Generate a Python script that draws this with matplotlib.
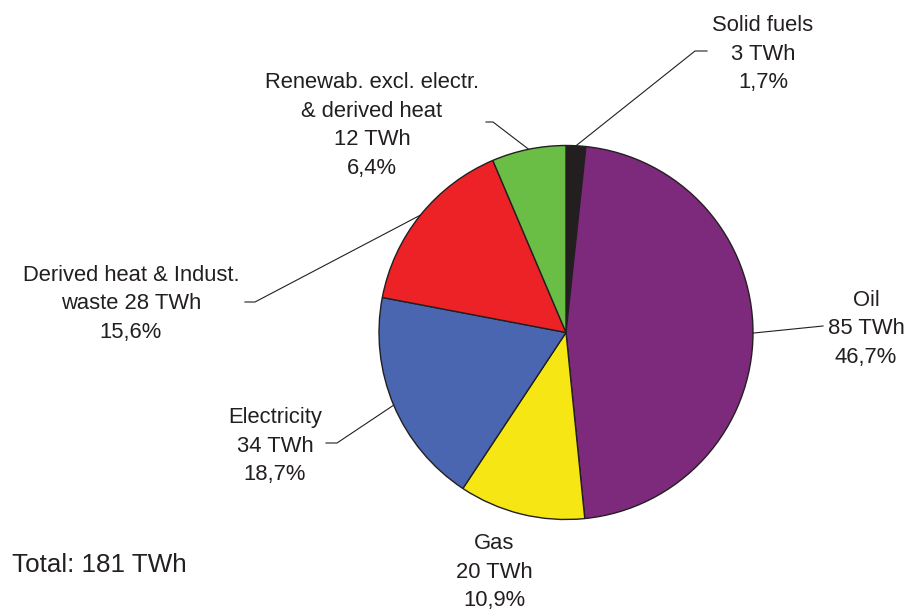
import numpy as np
import matplotlib.pyplot as plt

# Dados (sentido horário a partir do topo)
categorias = ["Solid fuels", "Oil", "Gas", "Electricity",
              "Derived heat & Indust.\nwaste", "Renewab. excl. electr.\n& derived heat"]
energia_twh = [3, 85, 20, 34, 28, 12]
percentuais = [1.7, 46.7, 10.9, 18.7, 15.6, 6.4]
cores = ["#231f20", "#7d2a7d", "#f5e614", "#4b66b0", "#ec2227", "#6abd45"]
total_twh = 181

plt.rcParams['font.family'] = ['Liberation Sans', 'DejaVu Sans']
COR_TEXTO = "#231f20"
FS = 15.8

fig = plt.figure(figsize=(9.12, 6.10), dpi=100)
ax = fig.add_axes([0, 0, 1, 1])


def py(y):
    # converte coordenada em pixel (topo) para coordenada do eixo
    return 610 - y


centro = (566, py(332.5))
raio = 187

fatias, _ = ax.pie(percentuais, colors=cores, startangle=90, counterclock=False,
                   center=centro, radius=raio, frame=True,
                   wedgeprops=dict(edgecolor=COR_TEXTO, linewidth=1.0))
ax.set_xlim(0, 912)
ax.set_ylim(0, 610)
ax.axis("off")


def rotulo(i):
    pct = f"{percentuais[i]:.1f}%".replace(".", ",")
    nome = categorias[i]
    sep = " " if nome.endswith("waste") else "\n"
    return f"{nome}{sep}{energia_twh[i]} TWh\n{pct}"


# posição do texto e cotovelo da linha de chamada (layout)
layout = {
    0: dict(texto=(763, 54), cotovelo=[(695, 51), (707, 51)]),
    1: dict(texto=(866, 329), cotovelo=[(823, 326)]),
    2: dict(texto=(494, 572), cotovelo=None),
    3: dict(texto=(275, 446), cotovelo=[(337, 443), (326, 443)]),
    4: dict(texto=(131, 304), cotovelo=[(255, 302), (245, 302)]),
    5: dict(texto=(372, 125.5), cotovelo=[(493, 122), (486, 122)]),
}

for i, w in enumerate(fatias):
    conf = layout[i]
    tx, ty = conf["texto"]
    ax.text(tx, py(ty), rotulo(i), ha="center", va="center", fontsize=FS,
            color=COR_TEXTO, linespacing=1.47)
    if conf["cotovelo"]:
        ang = np.deg2rad((w.theta1 + w.theta2) / 2)
        x0 = centro[0] + raio * np.cos(ang)
        y0 = centro[1] + raio * np.sin(ang)
        xs = [x0] + [p[0] for p in conf["cotovelo"]]
        ys = [y0] + [py(p[1]) for p in conf["cotovelo"]]
        ax.plot(xs, ys, color=COR_TEXTO, linewidth=0.8)

ax.text(12, py(565), f"Total: {total_twh} TWh", ha="left", va="center",
        fontsize=18.7, color=COR_TEXTO)

plt.savefig("out.png", dpi=100)
plt.close()
